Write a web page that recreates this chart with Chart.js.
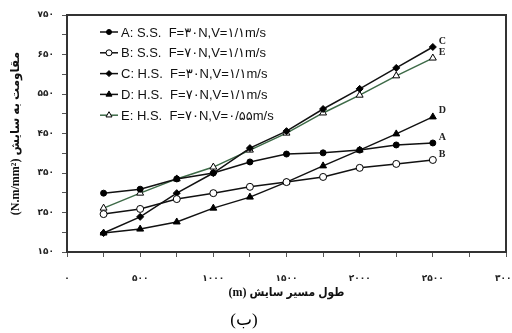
<!DOCTYPE html>
<html>
<head>
<meta charset="utf-8">
<script src="https://cdn.jsdelivr.net/npm/chart.js@4/dist/chart.umd.min.js"></script>
<style>
  html, body { margin: 0; padding: 0; background: #fff; }
  #wrap { width: 512px; height: 333px; }
</style>
</head>
<body>
<div id="wrap"><canvas id="wearChart"></canvas></div>
<script>
// sliding distance (m)
var distances = [250, 500, 750, 1000, 1250, 1500, 1750, 2000, 2250, 2500];
// wear resistance (N.m/mm2)
var seriesA = [299, 309, 335, 350, 378, 398, 401, 408, 421, 426];
var seriesB = [246, 259, 284, 299, 315, 327, 340, 363, 373, 383];
var seriesC = [198, 239, 299, 350, 413, 456, 512, 563, 616, 669];
var seriesD = [198, 208, 226, 261, 289, 327, 368, 408, 449, 492];
var seriesE = [261, 299, 335, 365, 408, 451, 502, 547, 596, 641];

var seriesNames = [
    'A: S.S.  F=۳۰N,V=۱/۱m/s',
    'B: S.S.  F=۷۰N,V=۱/۱m/s',
    'C: H.S.  F=۳۰N,V=۱/۱m/s',
    'D: H.S.  F=۷۰N,V=۱/۱m/s',
    'E: H.S.  F=۷۰N,V=۰/۵۵m/s'
];
var endLabels = ['A', 'B', 'C', 'D', 'E'];

var xTickValues = [0, 500, 1000, 1500, 2000, 2500, 3000];
var xTickLabels = ['۰', '۵۰۰', '۱۰۰۰', '۱۵۰۰', '۲۰۰۰', '۲۵۰۰', '۳۰۰۰'];
var yTickValues = [150, 250, 350, 450, 550, 650, 750];
var yTickLabels = ['۱۵۰', '۲۵۰', '۳۵۰', '۴۵۰', '۵۵۰', '۶۵۰', '۷۵۰'];

var fontFam = '"Liberation Serif", "DejaVu Sans", serif';
var fontNarrow = '"Liberation Serif", "DejaVu Sans Condensed", "DejaVu Sans", serif';

function pts(arr) {
    return arr.map(function(v, i) { return { x: distances[i], y: v }; });
}

function makeSet(i, values, color, style, fill, radius) {
    return {
        label: seriesNames[i],
        data: pts(values),
        borderColor: color,
        borderWidth: 1.5,
        pointStyle: style,
        pointRadius: radius,
        pointBorderWidth: 1,
        pointBorderColor: '#000',
        pointBackgroundColor: fill,
        tension: 0
    };
}

var legendInside = {
    id: 'legendInside',
    afterDraw: function(chart) {
        var ctx = chart.ctx;
        var a = chart.chartArea;
        ctx.save();
        chart.data.datasets.forEach(function(ds, i) {
            var y = a.top + 17 + i * 20.8;
            var x0 = a.left + 33;
            ctx.strokeStyle = ds.borderColor;
            ctx.lineWidth = 1.5;
            ctx.beginPath();
            ctx.moveTo(x0, y);
            ctx.lineTo(x0 + 18, y);
            ctx.stroke();
            ctx.fillStyle = ds.pointBackgroundColor;
            ctx.strokeStyle = '#000';
            ctx.lineWidth = 1;
            Chart.helpers.drawPoint(ctx, { pointStyle: ds.pointStyle, radius: ds.pointRadius - 0.5, borderWidth: 1 }, x0 + 9, y);
            ctx.fillStyle = '#111';
            ctx.font = '13px "Liberation Sans", "DejaVu Sans", sans-serif';
            ctx.textBaseline = 'middle';
            ctx.textAlign = 'left';
            ctx.fillText(ds.label, x0 + 21, y + 1);
        });
        ctx.restore();
    }
};

var extras = {
    id: 'extras',
    afterDraw: function(chart) {
        var ctx = chart.ctx;
        var a = chart.chartArea;
        ctx.save();
        // frame
        ctx.strokeStyle = '#333';
        ctx.lineWidth = 2;
        ctx.strokeRect(a.left, a.top, a.right - a.left, a.bottom - a.top);
        // line end labels
        ctx.fillStyle = '#222';
        ctx.font = 'bold 10px ' + fontFam;
        ctx.textBaseline = 'middle';
        ctx.textAlign = 'left';
        chart.data.datasets.forEach(function(ds, i) {
            var meta = chart.getDatasetMeta(i);
            var last = meta.data[meta.data.length - 1];
            ctx.fillText(endLabels[i], last.x + 6, last.y - 6);
        });
        // panel caption
        ctx.font = '17px ' + fontFam;
        ctx.textAlign = 'center';
        ctx.fillStyle = '#000';
        ctx.fillText('(ب)', 244, 321);
        ctx.restore();
    }
};

new Chart(document.getElementById('wearChart'), {
    type: 'line',
    data: {
        datasets: [
            makeSet(0, seriesA, '#111', 'circle', '#000', 3),
            makeSet(1, seriesB, '#111', 'circle', '#fff', 3.5),
            makeSet(2, seriesC, '#111', 'rectRot', '#000', 3.5),
            makeSet(3, seriesD, '#111', 'triangle', '#000', 4),
            makeSet(4, seriesE, '#3d6a47', 'triangle', '#fff', 4)
        ]
    },
    options: {
        responsive: true,
        maintainAspectRatio: false,
        animation: false,
        layout: { padding: { top: 15, right: 6, left: 0, bottom: 28 } },
        plugins: { legend: { display: false }, tooltip: { enabled: false } },
        scales: {
            x: {
                type: 'linear',
                min: 0,
                max: 3000,
                afterFit: function(s) {
                    s.height = 53;
                    s.paddingLeft = 0;
                    s.paddingRight = 0;
                },
                afterBuildTicks: function(s) {
                    var t = [];
                    for (var v = 0; v <= 3000; v += 250) t.push({ value: v });
                    s.ticks = t;
                },
                grid: { drawOnChartArea: false, tickLength: 5, color: '#555' },
                border: { color: '#333', width: 2 },
                ticks: {
                    autoSkip: false,
                    maxRotation: 0,
                    padding: 16,
                    color: '#222',
                    font: { family: fontFam, size: 9, weight: 'bold' },
                    callback: function(v) {
                        var k = xTickValues.indexOf(v);
                        return k >= 0 ? xTickLabels[k] : '';
                    }
                },
                title: {
                    display: true,
                    text: '(m) طول مسیر سایش',
                    color: '#111',
                    font: { family: fontNarrow, size: 12, weight: 'bold' },
                    padding: { top: 0, bottom: 5 }
                }
            },
            y: {
                min: 150,
                max: 750,
                afterFit: function(s) { s.width = 67; },
                afterBuildTicks: function(s) {
                    var t = [];
                    for (var v = 150; v <= 750; v += 50) t.push({ value: v });
                    s.ticks = t;
                },
                grid: { drawOnChartArea: false, tickLength: 5, color: '#555' },
                border: { color: '#333', width: 2 },
                ticks: {
                    autoSkip: false,
                    padding: 8,
                    color: '#222',
                    font: { family: fontFam, size: 9, weight: 'bold' },
                    callback: function(v) {
                        var k = yTickValues.indexOf(v);
                        return k >= 0 ? yTickLabels[k] : '';
                    }
                },
                title: {
                    display: true,
                    text: '(N.m/mm²) مقاومت به سایش',
                    color: '#111',
                    font: { family: fontFam, size: 12, weight: 'bold' },
                    padding: { top: 9, bottom: 0 }
                }
            }
        }
    },
    plugins: [legendInside, extras]
});
</script>
</body>
</html>
